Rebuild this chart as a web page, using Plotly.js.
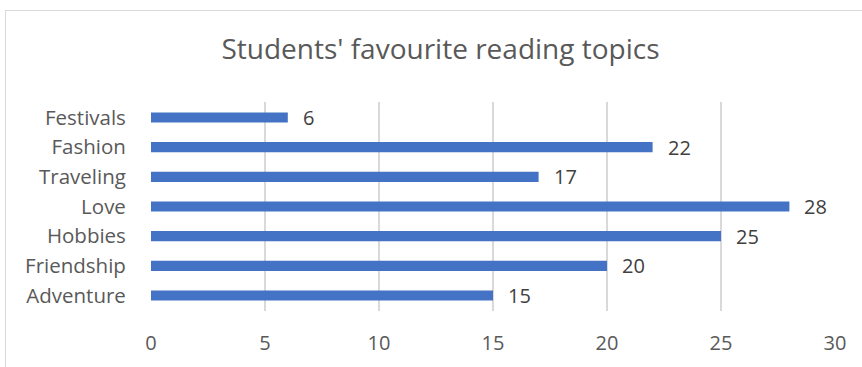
<!DOCTYPE html>
<html>
<head>
<meta charset="utf-8">
<script src="https://cdn.plot.ly/plotly-3.0.1.min.js"></script>
<style>
html,body{margin:0;padding:0;background:#fff;}
#wrap{position:relative;width:862px;height:367px;}
#chart{position:absolute;left:0;top:0;width:862px;height:367px;}
#frame{position:absolute;left:5px;top:10px;width:900px;height:400px;border-left:1px solid #d9d9d9;border-top:1px solid #d9d9d9;pointer-events:none;}
</style>
</head>
<body>
<div id="wrap"><div id="chart"></div><div id="frame"></div></div>
<script>
const categories = ['Adventure','Friendship','Hobbies','Love','Traveling','Fashion','Festivals'];
const values = [15, 20, 25, 28, 17, 22, 6];
const xTicks = [0, 5, 10, 15, 20, 25, 30];

const FONT = '"Open Sans", sans-serif';

const trace = {
  type: 'bar',
  orientation: 'h',
  y: categories,
  x: values,
  marker: {color: '#4472C4'},
  hoverinfo: 'none'
};

const annotations = categories.map((c, i) => ({
  x: values[i], y: c, xref: 'x', yref: 'y',
  text: String(values[i]), showarrow: false,
  xanchor: 'left', xshift: 13,
  font: {family: FONT, size: 20, color: '#404040'}
}));

const layout = {
  width: 862, height: 367,
  margin: {l: 151, r: 27, t: 102, b: 56},
  paper_bgcolor: 'rgba(0,0,0,0)',
  plot_bgcolor: '#fff',
  title: {text: "Students' favourite reading topics", x: 0.511, xanchor: 'center', y: 0.865, yanchor: 'middle',
          font: {family: FONT, size: 28, color: '#595959'}},
  bargap: 0.66,
  showlegend: false,
  xaxis: {
    range: [0, 30], tickvals: xTicks, ticktext: xTicks.map(String),
    showgrid: true, gridcolor: '#d9d9d9', gridwidth: 1.5,
    zeroline: false, showline: false,
    ticks: 'outside', ticklen: 14, tickcolor: 'rgba(0,0,0,0)',
    tickfont: {family: FONT, size: 20, color: '#595959'},
    fixedrange: true
  },
  yaxis: {
    type: 'category',
    showgrid: false, zeroline: false, showline: false,
    ticks: 'outside', ticklen: 20, tickcolor: 'rgba(0,0,0,0)',
    tickfont: {family: FONT, size: 20.5, color: '#595959'},
    fixedrange: true
  },
  annotations: annotations
};

Plotly.newPlot('chart', [trace], layout, {displayModeBar: false, staticPlot: true});
</script>
</body>
</html>
